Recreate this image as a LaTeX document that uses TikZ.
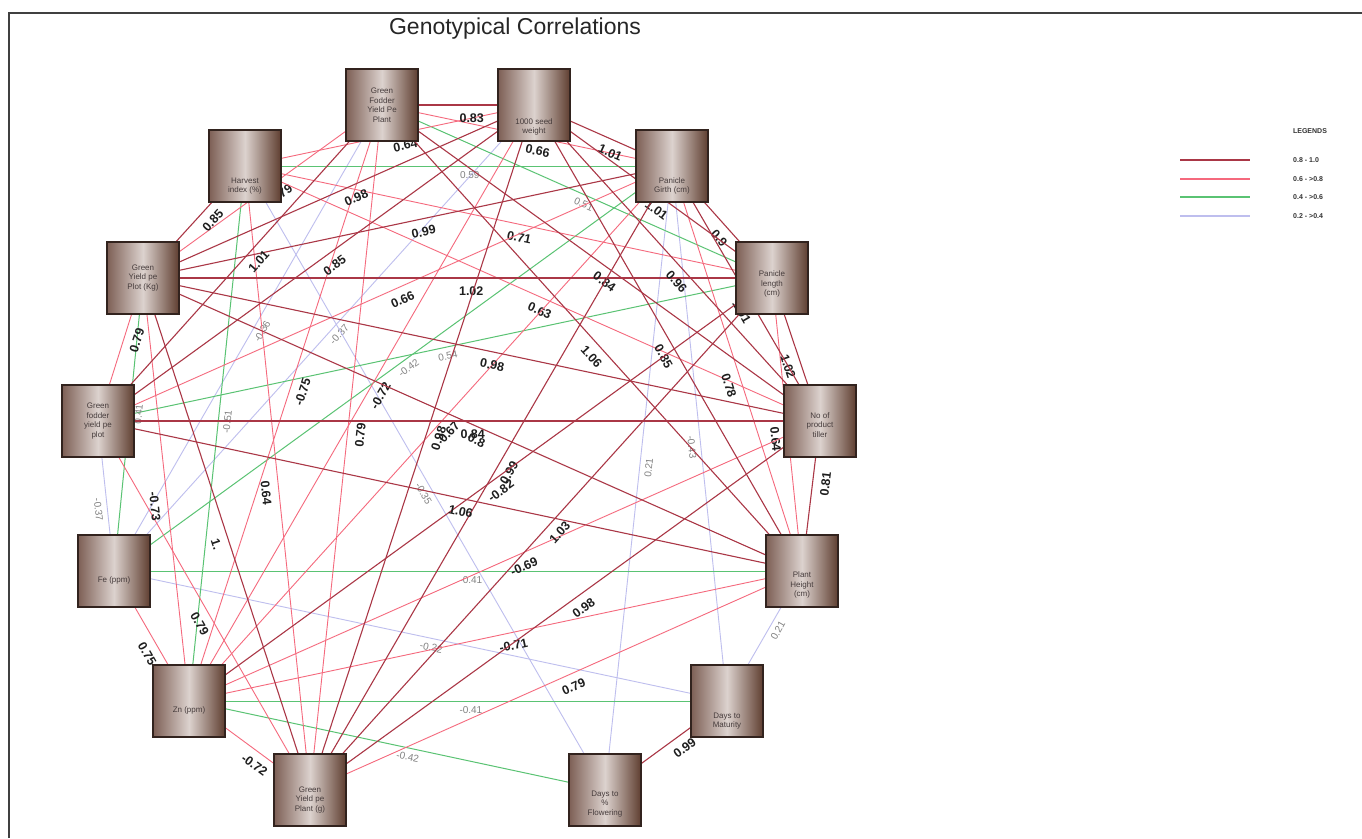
\documentclass[tikz,border=0pt]{standalone}
\usepackage{fontspec}
\setmainfont{Liberation Sans}
\usetikzlibrary{backgrounds}
\definecolor{dkc}{RGB}{170,55,70}
\definecolor{rdc}{RGB}{245,105,125}
\definecolor{grc}{RGB}{90,195,115}
\definecolor{blc}{RGB}{190,190,238}
\definecolor{boxl}{RGB}{125,95,85}
\definecolor{boxm}{RGB}{220,210,206}
\definecolor{boxr}{RGB}{95,62,48}
\definecolor{boxd}{RGB}{50,35,30}
\definecolor{boxt}{RGB}{70,60,60}
\definecolor{lblc}{RGB}{30,30,30}
\definecolor{glblc}{RGB}{130,130,130}
\begin{document}
\begin{tikzpicture}[x=1pt,y=-1pt,
  gbox/.style={draw=boxd, line width=1.5pt, minimum width=72pt, minimum height=72pt, inner sep=0pt,
    left color=boxl, right color=boxr, middle color=boxm},
  btxt/.style={font=\fontsize{8}{9.5}\selectfont, text=boxt, align=center, inner sep=0pt},
  lbl/.style={font=\bfseries\fontsize{12.5}{12.5}\selectfont, text=lblc, sloped, pos=0.5,
    anchor=north west, inner xsep=1pt, inner ysep=8pt},
  glbl/.style={font=\fontsize{10}{10}\selectfont, text=glblc, sloped, pos=0.5,
    anchor=north west, inner xsep=1pt, inner ysep=5pt},
  dk/.style={draw=dkc, line width=1.1pt},
  rd/.style={draw=rdc, line width=0.9pt},
  gr/.style={draw=grc, line width=1pt},
  bl/.style={draw=blc, line width=0.9pt},
  legtxt/.style={font=\bfseries\fontsize{7}{8}\selectfont, text=black!80, anchor=west, inner sep=0pt}]
\useasboundingbox (0,0) rectangle (1362,838);

% frame and title
\draw[black!75, line width=1.2pt] (9,838) -- (9,13) -- (1362,13);
\node[font=\fontsize{23}{26}\selectfont, text=black!85] (title) at (515,29) {Genotypical Correlations};

% variable boxes
\node[gbox, label={[btxt]center:{Green\\Fodder\\Yield Pe\\Plant}}] (n1) at (382,105) {};
\node[gbox, label={[btxt,yshift=-22pt]center:{1000 seed\\weight}}] (n2) at (534,105) {};
\node[gbox, label={[btxt,yshift=-20pt]center:{Panicle\\Girth (cm)}}] (n3) at (672,166) {};
\node[gbox, label={[btxt,yshift=-6pt]center:{Panicle\\length\\(cm)}}] (n4) at (772,278) {};
\node[gbox, label={[btxt,yshift=-4pt]center:{No of\\product\\tiller}}] (n5) at (820,421) {};
\node[gbox, label={[btxt,yshift=-14pt]center:{Plant\\Height\\(cm)}}] (n6) at (802,571) {};
\node[gbox, label={[btxt,yshift=-20pt]center:{Days to\\Maturity}}] (n7) at (727,701) {};
\node[gbox, label={[btxt,yshift=-14pt]center:{Days to\\\%\\Flowering}}] (n8) at (605,790) {};
\node[gbox, label={[btxt,yshift=-10pt]center:{Green\\Yield pe\\Plant (g)}}] (n9) at (310,790) {};
\node[gbox, label={[btxt,yshift=-9pt]center:{Zn (ppm)}}] (n10) at (189,701) {};
\node[gbox, label={[btxt,yshift=-9pt]center:{Fe (ppm)}}] (n11) at (114,571) {};
\node[gbox, label={[btxt]center:{Green\\fodder\\yield pe\\plot}}] (n12) at (98,421) {};
\node[gbox, label={[btxt]center:{Green\\Yield pe\\Plot (Kg)}}] (n13) at (143,278) {};
\node[gbox, label={[btxt,yshift=-20pt]center:{Harvest\\index (\%)}}] (n14) at (245,166) {};

\begin{scope}[on background layer]
\fill[white] (0,0) rectangle (1362,838);
% 0.2 - 0.4
\foreach \a/\b/\t in {6/7/0.21, 11/12/-0.37, 11/1/-0.36, 11/2/-0.37,
    14/8/-0.35, 11/7/-0.22, 3/8/0.21, 3/7/-0.43}
  \draw[bl] (n\a) -- node[glbl]{\t} (n\b);
% 0.4 - 0.6
\foreach \a/\b/\t in {14/3/0.59, 1/4/0.51, 12/4/0.54, 11/3/-0.42,
    10/14/-0.51, 13/11/0.41, 11/6/-0.41, 10/7/-0.41, 10/8/-0.42}
  \draw[gr] (n\a) -- node[glbl]{\t} (n\b);
% 0.6 - 0.8
\foreach \a/\b/\t in {10/9/-0.72, 11/10/0.75, 12/13/0.79, 14/2/0.64,
    1/3/0.66, 13/1/0.79, 14/4/0.71, 12/3/0.66, 14/5/0.63,
    3/6/0.78, 4/6/0.64, 10/1/-0.75, 10/2/-0.72, 9/1/0.79,
    9/14/0.64, 10/3/0.67, 10/5/-0.69, 10/6/-0.71, 9/6/0.79,
    12/9/0.79, 13/10/-0.73}
  \draw[rd] (n\a) -- node[lbl]{\t} (n\b);
% 0.8 - 1.0
\foreach \a/\b/\t in {1/2/0.83, 2/3/1.01, 3/4/0.9, 4/5/1.02,
    5/6/0.81, 7/8/0.99, 13/14/0.85, 2/4/1.01, 13/2/0.98,
    13/3/0.99, 12/1/1.01, 12/2/0.85, 13/4/1.02, 1/5/0.84,
    2/5/0.96, 1/6/1.06, 2/6/0.85, 3/5/1.01, 13/5/0.98,
    9/2/0.98, 12/5/0.84, 13/6/0.8, 9/3/0.99, 10/4/-0.82,
    12/6/1.06, 9/4/1.03, 9/5/0.98, 13/9/1.}
  \draw[dk] (n\a) -- node[lbl]{\t} (n\b);
\end{scope}

% legend
\node[font=\bfseries\fontsize{7}{8}\selectfont, text=black!80] (legt) at (1310,131) {LEGENDS};
\coordinate (la1) at (1180,160); \coordinate (lb1) at (1250,160);
\coordinate (la2) at (1180,179); \coordinate (lb2) at (1250,179);
\coordinate (la3) at (1180,197); \coordinate (lb3) at (1250,197);
\coordinate (la4) at (1180,216); \coordinate (lb4) at (1250,216);
\draw[dk, line width=1.8pt] (la1) -- (lb1);
\draw[rd, line width=1.8pt] (la2) -- (lb2);
\draw[gr, line width=1.8pt] (la3) -- (lb3);
\draw[bl, line width=1.8pt] (la4) -- (lb4);
\node[legtxt] (lt1) at (1293,160) {0.8 - 1.0};
\node[legtxt] (lt2) at (1293,179) {0.6 - >0.8};
\node[legtxt] (lt3) at (1293,197) {0.4 - >0.6};
\node[legtxt] (lt4) at (1293,216) {0.2 - >0.4};
\end{tikzpicture}
\end{document}
